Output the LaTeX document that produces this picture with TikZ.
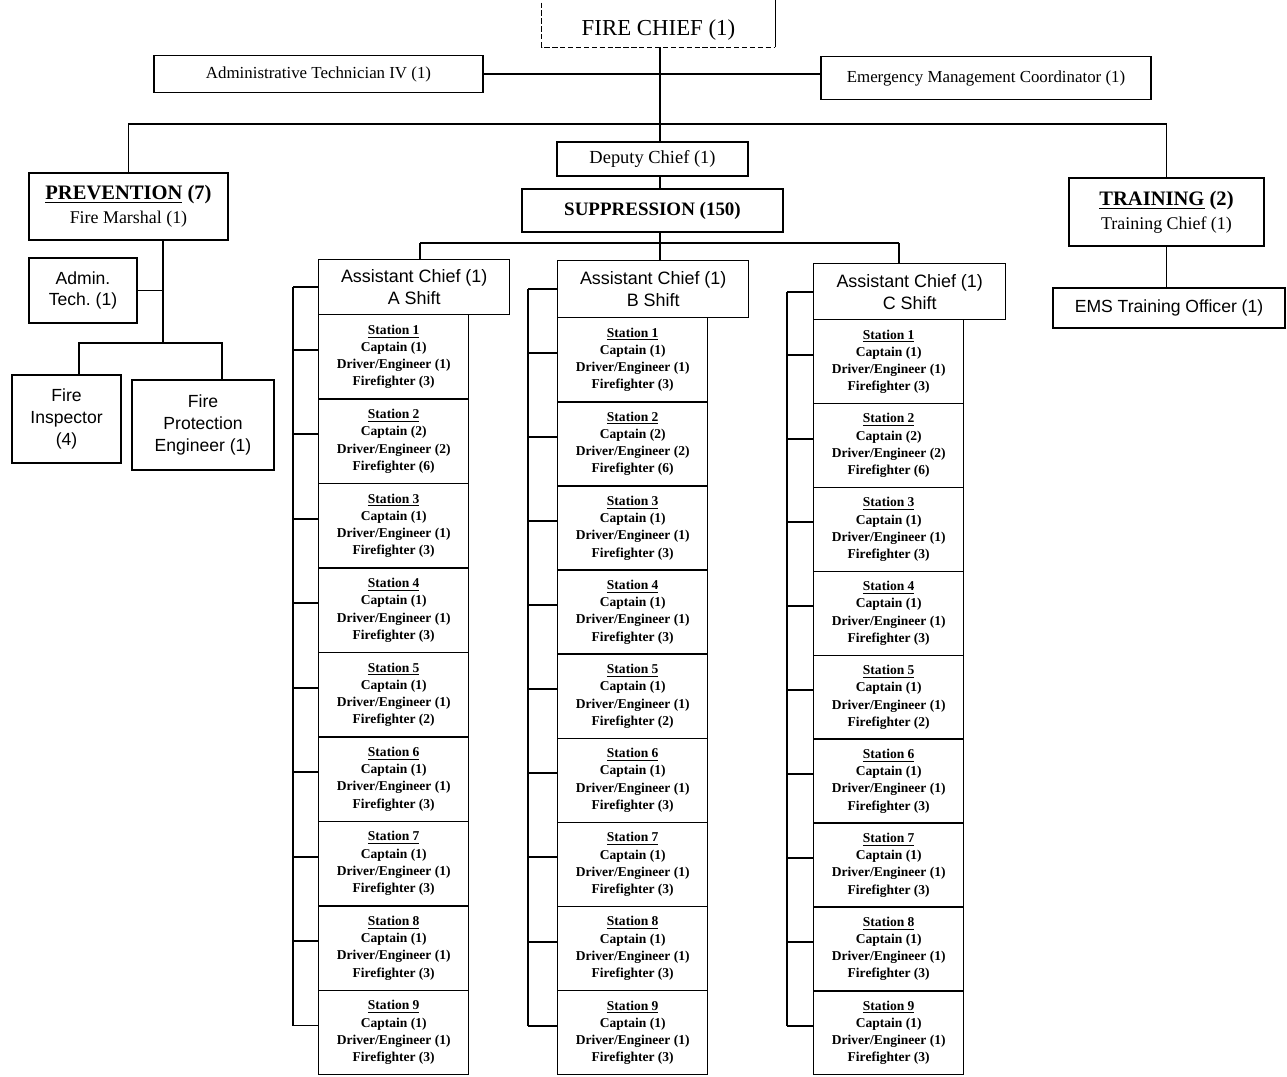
\documentclass[tikz,border=0pt]{standalone}
\usepackage{fontspec}
\setmainfont{Liberation Serif}
\setsansfont{Liberation Sans}
\usetikzlibrary{positioning, calc}
\frenchspacing

\begin{document}
\begin{tikzpicture}[
    x=0.02cm, y=-0.02cm,
    box/.style={draw=black, line width=0.8pt, inner sep=1pt, align=center},
    link/.style={draw=black, line width=1.1pt},
    chiefbox/.style={inner sep=1pt, font=\fontsize{13}{15}\selectfont,
      minimum width=4.66cm, minimum height=1.04cm, text height=19.6pt, text depth=3pt},
    staffbox/.style={box, font=\fontsize{9.6}{11}\selectfont},
    divbox/.style={box, font=\fontsize{10.2}{13.6}\selectfont},
    sansbox/.style={box, font=\sffamily\fontsize{10}{12.4}\selectfont},
    shiftbox/.style={box, anchor=north west, font=\sffamily\fontsize{10.2}{12.6}\selectfont},
    stationbox/.style={box, anchor=north west, inner sep=0pt,
      font=\bfseries\fontsize{7.7}{9.8}\selectfont},
  ]

  % Background
  \fill[white] (0,0) rectangle (1287,1076);
  \useasboundingbox (0,0) rectangle (1287,1076);

  % Chief and staff
  \node[chiefbox] (chief) at (658.5,21) {FIRE CHIEF (1)};
  \draw[line width=0.8pt, dash pattern=on 3pt off 1.5pt]
    (chief.north west) -- (chief.south west) -- (chief.south east);
  \draw[line width=0.8pt] (chief.south east) -- (chief.north east);

  \node[staffbox, minimum width=6.58cm, minimum height=0.74cm] (admintech) at (318.5,74)
    {Administrative Technician IV (1)};
  \node[staffbox, minimum width=6.6cm, minimum height=0.86cm] (emc) at (986,78)
    {Emergency Management Coordinator (1)};

  \node[box, font=\fontsize{10.5}{12}\selectfont, minimum width=3.82cm, minimum height=0.68cm]
    (deputy) at (652.5,159) {Deputy Chief (1)};
  \node[box, font=\bfseries\fontsize{10.8}{13}\selectfont, minimum width=5.22cm, minimum height=0.86cm]
    (supp) at (652.5,210.5) {SUPPRESSION (150)};

  % Divisions
  \node[divbox, minimum width=3.98cm, minimum height=1.34cm] (prev) at (128.5,206.5)
    {{\bfseries\fontsize{11.7}{13.6}\selectfont\underline{PREVENTION} (7)}\\Fire Marshal (1)};
  \node[divbox, minimum width=3.9cm, minimum height=1.36cm] (train) at (1166.5,212)
    {{\bfseries\fontsize{11.7}{13.6}\selectfont\underline{TRAINING} (2)}\\Training Chief (1)};
  \node[sansbox, minimum width=4.64cm, minimum height=0.8cm] (ems) at (1169,308)
    {EMS Training Officer (1)};

  \node[sansbox, minimum width=2.16cm, minimum height=1.3cm] (admin) at (83,290.5)
    {Admin.\\Tech. (1)};
  \node[sansbox, minimum width=2.18cm, minimum height=1.76cm] (insp) at (66.5,419)
    {Fire\\Inspector\\(4)};
  \node[sansbox, minimum width=2.84cm, minimum height=1.8cm] (fpe) at (203,425)
    {Fire\\Protection\\Engineer (1)};

  % Main line
  \coordinate (spine) at (660,243);
  \coordinate (divbus) at (660,124);
  \draw[link] (chief.south -| spine) -- (spine |- deputy.north);
  \draw[link] (spine |- deputy.south) -- (spine |- supp.north);
  \draw[link] (spine |- supp.south) -- (spine);
  \draw[link] (admintech.east) -- (admintech.east -| emc.west);
  \draw[link] (prev.north) -- (prev.north |- divbus) -- (train.north |- divbus) -- (train.north);
  \draw[link] (train.south) -- (train.south |- ems.north);

  % Prevention branch
  \coordinate (pjoint) at (163,343);
  \coordinate (inspL) at (79,343);
  \coordinate (inspR) at (222,343);
  \draw[link] (pjoint |- prev.south) -- (pjoint);
  \draw[link] (admin.east) -- (admin.east -| pjoint);
  \draw[link] (inspL |- insp.north) -- (inspL) -- (inspR) -- (inspR |- fpe.north);

  % Shifts and stations
  \foreach \sid/\ax/\ar/\at/\ab/\sr/\bx/\lx in {A/318/509/259/314/468/293/420,
      B/557/748/260/317/707/528/660, C/813/1005/263/319/963/787/899}{
    \pgfmathsetmacro\aw{(\ar-\ax)*0.02}
    \pgfmathsetmacro\ah{(\ab-\at)*0.02}
    \pgfmathsetmacro\sw{(\sr-\ax)*0.02}
    \pgfmathsetmacro\sh{(1074-\ab)/9}
    \pgfmathsetmacro\shcm{\sh*0.02}
    \node[shiftbox, minimum width=\aw cm, minimum height=\ah cm] (asc\sid) at (\ax,\at)
      {Assistant Chief (1)\\\sid{} Shift};
    \coordinate (leg\sid) at (\lx,243);
    \coordinate (brk\sid) at (\bx,0);
    \draw[link] (leg\sid) -- (leg\sid |- asc\sid.north);
    \draw[link] (asc\sid.west) -- (asc\sid.west -| brk\sid);
    \foreach \n/\cpt/\drv/\ffg in {1/1/1/3, 2/2/2/6, 3/1/1/3, 4/1/1/3, 5/1/1/2,
        6/1/1/3, 7/1/1/3, 8/1/1/3, 9/1/1/3}{
      \node[stationbox, minimum width=\sw cm, minimum height=\shcm cm]
        (st\sid\n) at (\ax,{\ab+(\n-1)*\sh})
        {\underline{Station \n}\\Captain (\cpt)\\Driver/Engineer (\drv)\\Firefighter (\ffg)};
      \draw[link] ([yshift=0.14cm]st\sid\n.west) -- ([yshift=0.14cm]st\sid\n.west -| brk\sid);
    }
    \draw[link] (asc\sid.west -| brk\sid) -- ([yshift=0.14cm]st\sid9.west -| brk\sid);
  }
  \draw[link] (legA) -- (legC);

\end{tikzpicture}
\end{document}
